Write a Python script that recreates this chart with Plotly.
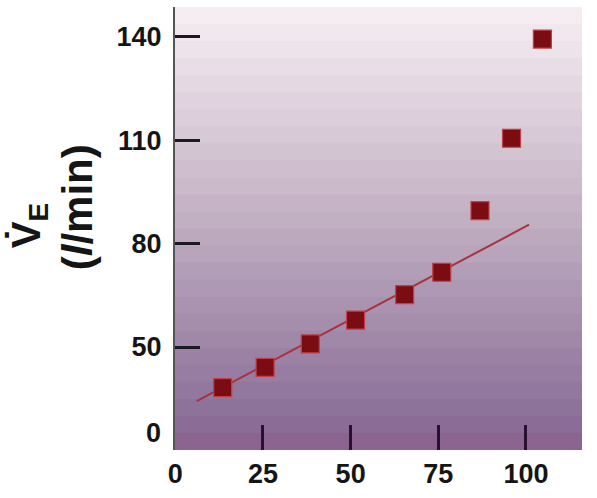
import plotly.graph_objects as go

# Data
x_pts = [13.5, 25.6, 38.5, 51.4, 65.4, 76.0, 86.9, 95.9, 104.7]
y_pts = [38.2, 44.1, 50.9, 57.8, 65.2, 71.7, 89.6, 110.6, 139.4]
fit_x = [6.1, 100.9]
fit_y = [34.3, 85.5]
x_ticks = [0, 25, 50, 75, 100]
y_ticks = [50, 80, 110, 140]

W, H = 597, 498
ML, MR, MT, MB = 175, 15, 7, 48

fig = go.Figure()

# background gradient bands
stops = [(0.0, (140, 96, 140)), (0.07, (138, 110, 152)), (0.54, (196, 178, 196)), (1.0, (248, 240, 244))]
def col(d):
    for (d0, c0), (d1, c1) in zip(stops[:-1], stops[1:]):
        if d0 <= d <= d1:
            t = (d - d0) / (d1 - d0)
            return "rgb(%d,%d,%d)" % tuple(round(a + (b - a) * t) for a, b in zip(c0, c1))
    return "rgb(%d,%d,%d)" % stops[-1][1]
nb = 26
shapes = []
for i in range(nb):
    d0, d1 = i / nb, (i + 1) / nb
    c = col((d0 + d1) / 2)
    shapes.append(dict(type="rect", xref="x domain", yref="y domain", x0=0, x1=1,
                       y0=d0, y1=min(1.0, d1 + 0.004),
                       fillcolor=c, line=dict(width=0), layer="below"))

fig.add_trace(go.Scatter(x=fit_x, y=fit_y, mode="lines",
                         line=dict(color="#a8323e", width=2), hoverinfo="skip", showlegend=False))
fig.add_trace(go.Scatter(x=x_pts, y=y_pts, mode="markers",
                         marker=dict(symbol="square", size=18, color="#7a0c12",
                                     line=dict(color="#c0404a", width=1.2)),
                         showlegend=False))

tickfont = dict(family="Liberation Sans, Arial, sans-serif", size=27, color="#151515", weight="bold")
titlefont = dict(family="Liberation Sans, Arial, sans-serif", size=42, color="#151515", weight="bold")

fig.update_layout(
    width=W, height=H,
    margin=dict(l=ML, r=MR, t=MT, b=MB),
    paper_bgcolor="white", plot_bgcolor="white",
    shapes=shapes,
    xaxis=dict(range=[-0.1, 116], tickvals=x_ticks, ticktext=[str(v) for v in x_ticks],
               ticks="inside", ticklen=25, tickwidth=3, tickcolor="#2a1030",
               showgrid=False, zeroline=False, showline=False, tickfont=tickfont,
               ticklabelstandoff=5),
    yaxis=dict(range=[20.1, 148.7], tickvals=y_ticks, ticktext=[str(v) for v in y_ticks],
               ticks="inside", ticklen=25, tickwidth=3, tickcolor="#1a1a22",
               showgrid=False, zeroline=False, showline=True, linecolor="#555",
               linewidth=2, tickfont=tickfont, ticklabelstandoff=6),
    annotations=[
        dict(text="0", xref="paper", yref="y", x=-0.03, y=25, xanchor="right", yanchor="middle",
             showarrow=False, font=tickfont),
        dict(text="V\u0307<sub>E</sub>", xref="paper", yref="paper", x=-0.3587, y=0.505,
             xanchor="center", yanchor="middle", textangle=-90, showarrow=False,
             font=dict(family="Liberation Sans, Arial, sans-serif", size=40, color="#151515", weight="bold")),
        dict(text="(<i>l</i>/<i>l</i>min)".replace("<i>l</i>min", "min"), xref="paper", yref="paper",
             x=-0.2408, y=0.548,
             xanchor="center", yanchor="middle", textangle=-90, showarrow=False,
             font=titlefont),
    ],
)

fig.write_html("out.html")
